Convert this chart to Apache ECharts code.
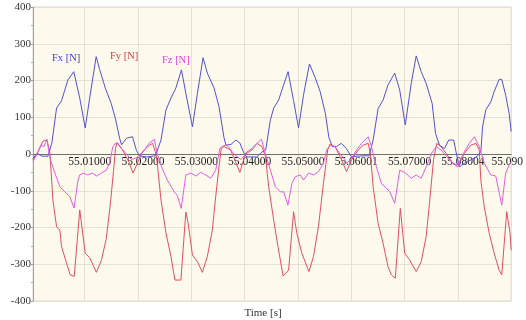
<!DOCTYPE html>
<html>
<head>
<meta charset="utf-8">
<script src="https://cdn.jsdelivr.net/npm/echarts@6/dist/echarts.min.js"></script>
<style>
html,body{margin:0;padding:0;background:#fff;}
#c{width:526px;height:320px;}
</style>
</head>
<body>
<div id="c"></div>
<script>
// time offsets in milliseconds after 55.000 s
var xTickValues = [10, 20, 30, 40, 50, 60, 70, 80, 90];
var xTickLabels = ['55.01000', '55.02000', '55.03000', '55.04000', '55.05000', '55.06001', '55.07000', '55.08004', '55.090'];
var yTicks = [-400, -300, -200, -100, 0, 100, 200, 300, 400];
var seriesNames = ['Fx [N]', 'Fy [N]', 'Fz [N]'];

var tFx = [0.30,1.04,1.98,3.10,3.84,4.72,5.65,6.27,6.83,7.95,9.07,10.09,10.93,12.15,12.80,13.92,14.98,15.78,16.53,16.90,17.84,18.96,19.70,20.26,21.57,23.25,24.31,25.24,26.18,27.11,28.15,28.97,30.21,31.14,32.20,33.00,34.25,35.19,36.12,36.49,37.43,38.36,39.10,39.85,40.41,42.28,43.21,43.96,44.83,45.45,46.38,47.31,48.15,49.18,50.11,51.04,52.16,53.23,54.16,55.15,55.80,56.46,57.20,58.13,59.07,60.00,62.24,63.36,64.10,65.04,65.97,66.90,68.15,69.09,70.13,71.25,72.18,73.12,74.05,75.17,75.80,76.55,77.48,78.28,79.22,79.65,80.28,81.21,82.44,83.56,84.31,84.63,85.24,86.18,86.81,87.74,88.23,88.97,89.61,90.00];
var fx = [-12,2,-6,-6,30,125,145,174,201,224,152,71,152,265,230,177,137,95,44,25,43,47,10,-5,-8,-5,38,120,152,180,229,165,74,165,262,220,180,129,45,24,26,38,30,3,-8,-8,5,11,93,125,147,188,224,145,71,160,245,208,170,110,45,20,20,29,15,-7,-5,-5,38,124,147,188,220,174,79,192,267,224,192,138,56,24,15,38,38,6,-35,-25,-16,-7,6,74,120,142,170,203,203,160,111,61];

var tFy = [0.30,1.23,2.16,2.91,3.47,4.03,4.72,5.34,5.65,6.59,7.29,8.04,9.07,10.09,10.93,12.18,13.12,14.05,14.85,15.41,15.78,16.06,17.09,18.40,19.05,19.89,20.63,21.19,22.13,22.74,23.38,23.68,24.31,25.24,26.18,26.92,28.04,28.97,29.40,30.21,31.14,32.07,33.00,33.94,34.57,35.19,35.61,36.12,37.37,38.30,39.10,40.21,41.40,42.33,43.26,43.90,44.51,45.45,46.25,47.22,48.25,49.18,49.79,50.73,52.07,52.91,53.84,54.78,55.58,56.03,56.96,58.19,59.12,60.06,61.31,62.24,63.17,63.60,64.10,65.04,65.97,66.90,67.52,68.26,69.20,70.02,70.95,72.18,73.12,74.05,74.79,75.43,76.04,76.85,77.78,79.03,79.96,81.21,82.44,83.38,84.01,84.31,84.94,85.88,86.81,87.74,88.23,89.16,89.79,90.00];
var fy = [-16,5,35,38,5,-125,-198,-207,-252,-297,-329,-333,-152,-270,-282,-322,-290,-230,-130,-45,15,30,11,-25,-52,-25,0,11,24,29,0,-35,-125,-215,-279,-343,-343,-158,-188,-275,-293,-322,-279,-207,-116,-35,15,20,11,-21,-50,3,15,29,20,-7,-89,-180,-252,-332,-316,-157,-216,-270,-320,-279,-198,-80,11,27,20,-16,-48,-16,11,24,29,0,-89,-189,-243,-307,-329,-338,-148,-270,-288,-320,-293,-225,-116,-16,29,20,2,-25,-35,2,24,29,11,-71,-143,-216,-270,-316,-329,-157,-216,-262];

var tFz = [0.30,1.04,1.79,2.35,2.91,3.47,4.40,5.34,6.27,7.20,8.00,8.75,9.07,9.68,10.56,11.49,12.18,13.12,14.05,14.66,15.28,15.78,16.21,16.90,17.84,18.77,19.70,20.45,21.19,22.13,23.06,23.62,24.55,25.49,26.23,26.79,27.35,28.10,28.97,29.91,30.84,31.77,32.57,33.64,34.57,35.37,35.93,36.68,37.43,38.36,39.29,40.22,41.40,42.33,43.15,43.90,44.83,45.76,46.70,47.31,48.12,48.86,49.49,50.43,51.04,51.98,52.91,53.84,54.78,55.39,56.03,56.96,57.90,58.83,59.12,60.06,60.99,61.93,63.17,63.79,64.72,65.65,66.59,67.22,68.15,69.09,70.02,71.25,72.18,73.12,74.05,74.98,75.91,76.85,77.78,79.03,79.96,81.21,82.14,83.08,84.01,84.94,86.18,87.11,88.23,88.97,89.61,90.00];
var fz = [-21,0,25,20,40,-11,-52,-89,-103,-116,-147,-71,-57,-52,-57,-52,-60,-52,-44,-25,20,30,30,15,0,-15,-10,0,11,30,40,0,-40,-71,-89,-103,-112,-148,-57,-52,-60,-50,-56,-66,-44,16,22,25,10,-5,-15,0,11,29,40,0,-44,-89,-103,-103,-139,-80,-62,-57,-71,-52,-57,-48,-25,11,24,20,0,-16,-25,-12,11,29,47,20,-35,-80,-93,-103,-134,-44,-50,-66,-57,-66,-35,0,20,11,-5,-25,-30,6,29,47,20,-25,-57,-60,-139,-52,-30,-21];

function pairs(t, v) { return t.map(function (x, i) { return [x, v[i]]; }); }

var colors = ['#5252d6', '#e2505f', '#e25ee6'];
var textColors = ['#3a3ac8', '#cc3b45', '#e040e0'];
var serif = '"Liberation Serif", "DejaVu Serif", serif';
var legendPos = [[47, 53], [105, 51], [157, 55]];

var chart = echarts.init(document.getElementById('c'), null, {renderer: 'canvas'});
var labelMap = {};
xTickValues.forEach(function (v, i) { labelMap[v] = xTickLabels[i]; });

var legends = seriesNames.map(function (n, i) {
  return {
    data: [n],
    left: legendPos[i][0], top: legendPos[i][1],
    itemWidth: 0, itemHeight: 0, padding: 0, icon: 'none',
    selectedMode: false,
    textStyle: {fontFamily: serif, fontSize: 10.5, color: textColors[i]}
  };
});

chart.setOption({
  animation: false,
  backgroundColor: '#ffffff',
  title: {
    text: 'Time [s]',
    left: 'center',
    top: 303,
    textStyle: {fontFamily: serif, fontSize: 11, fontWeight: 'normal', color: '#333'}
  },
  legend: legends,
  grid: {
    left: 33, right: 12, top: 7, bottom: 19,
    show: true, backgroundColor: '#fdf9ec', borderColor: '#d8d6d0', borderWidth: 1
  },
  xAxis: {
    type: 'value',
    min: 0.3, max: 90,
    position: 'bottom',
    offset: -147,
    axisLine: {onZero: false, lineStyle: {color: '#707070', width: 1}},
    axisTick: {show: false, customValues: xTickValues},
    axisLabel: {
      customValues: xTickValues,
      margin: 2,
      fontFamily: serif, fontSize: 11.5, color: '#222',
      formatter: function (v) {
        var s = labelMap[Math.round(v)] || '';
        return v >= 90 ? '{b|' + s + '}' : '{a|' + s + '}';
      },
      rich: {
        a: {fontFamily: serif, fontSize: 11.5, color: '#222', padding: [0, 0, 0, 10]},
        b: {fontFamily: serif, fontSize: 11.5, color: '#222', padding: [0, 8, 0, 0]}
      }
    },
    splitLine: {show: true, lineStyle: {color: '#e6e1d2', width: 1}}
  },
  yAxis: {
    type: 'value',
    min: yTicks[0], max: yTicks[yTicks.length - 1], interval: 100,
    axisLine: {show: true, lineStyle: {color: '#a0a0a0'}},
    axisTick: {show: true, length: 2, lineStyle: {color: '#a0a0a0'}},
    minorTick: {show: true, splitNumber: 2, length: 2, lineStyle: {color: '#b0b0b0'}},
    axisLabel: {margin: 2, fontFamily: serif, fontSize: 11, color: '#333'},
    splitLine: {show: true, lineStyle: {color: '#e6e1d2', width: 1}}
  },
  series: [
    {name: seriesNames[0], type: 'line', data: pairs(tFx, fx), showSymbol: false, symbol: 'none',
     lineStyle: {color: colors[0], width: 1}, itemStyle: {color: colors[0]}, z: 3},
    {name: seriesNames[1], type: 'line', data: pairs(tFy, fy), showSymbol: false, symbol: 'none',
     lineStyle: {color: colors[1], width: 1}, itemStyle: {color: colors[1]}, z: 2},
    {name: seriesNames[2], type: 'line', data: pairs(tFz, fz), showSymbol: false, symbol: 'none',
     lineStyle: {color: colors[2], width: 1}, itemStyle: {color: colors[2]}, z: 4}
  ]
});
</script>
</body>
</html>
